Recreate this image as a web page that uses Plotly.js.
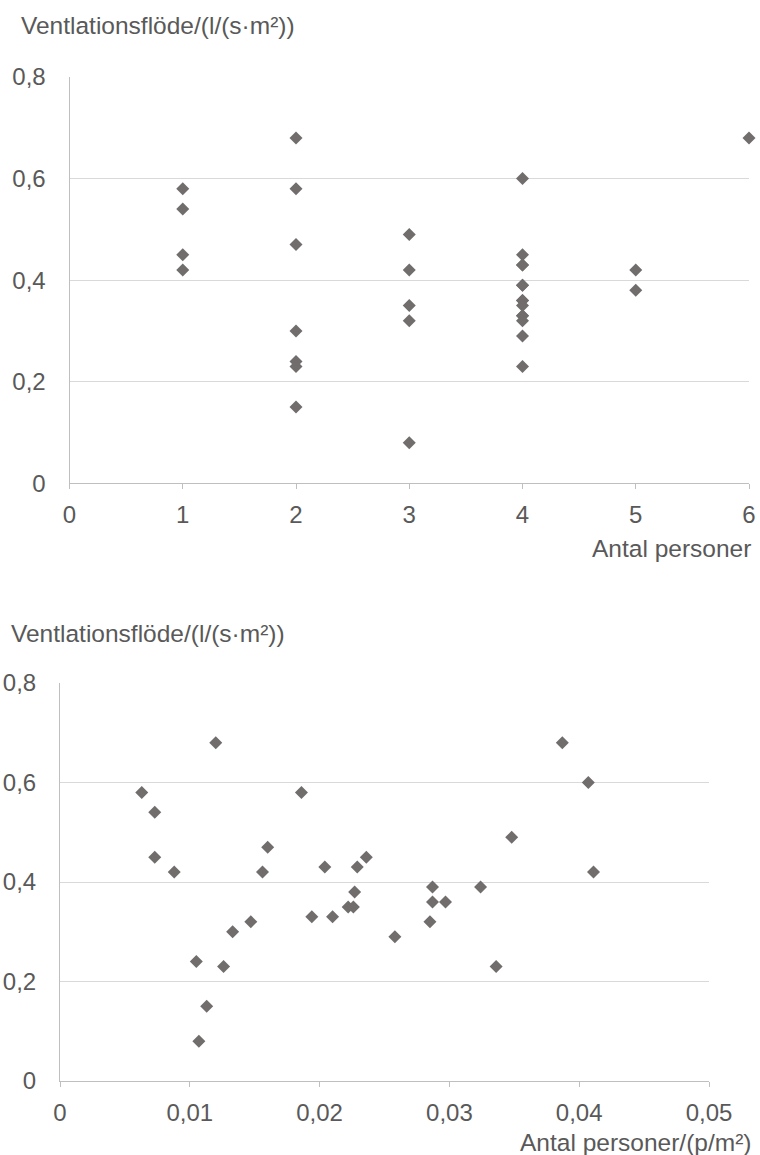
<!DOCTYPE html>
<html>
<head>
<meta charset="utf-8">
<script src="https://cdn.plot.ly/plotly-3.0.1.min.js"></script>
<style>
  html, body { margin: 0; padding: 0; background: #ffffff; }
  #chart { width: 760px; height: 1155px; }
</style>
</head>
<body>
<div id="chart"></div>
<script>
// ---- Data: top chart (number of persons vs ventilation flow) ----
const persons = [1, 1, 1, 1,
                 2, 2, 2, 2, 2, 2, 2,
                 3, 3, 3, 3, 3,
                 4, 4, 4, 4, 4, 4, 4, 4, 4, 4, 4, 4, 4, 4,
                 5, 5,
                 6];
const flowTop = [0.58, 0.54, 0.45, 0.42,
                 0.68, 0.58, 0.47, 0.30, 0.24, 0.23, 0.15,
                 0.49, 0.42, 0.35, 0.32, 0.08,
                 0.60, 0.45, 0.43, 0.43, 0.39, 0.39, 0.36, 0.36, 0.35, 0.33, 0.33, 0.32, 0.29, 0.23,
                 0.42, 0.38,
                 0.68];

// ---- Data: bottom chart (persons per m² vs ventilation flow) ----
const density = [0.0063, 0.0073, 0.0073, 0.0088, 0.0120, 0.0105, 0.0107, 0.0113, 0.0126,
                 0.0133, 0.0147, 0.0156, 0.0160, 0.0186, 0.0194, 0.0204, 0.0210, 0.0222,
                 0.0226, 0.0227, 0.0229, 0.0236, 0.0258, 0.0285, 0.0287, 0.0287, 0.0297,
                 0.0324, 0.0336, 0.0348, 0.0387, 0.0407, 0.0411];
const flowBottom = [0.58, 0.54, 0.45, 0.42, 0.68, 0.24, 0.08, 0.15, 0.23,
                    0.30, 0.32, 0.42, 0.47, 0.58, 0.33, 0.43, 0.33, 0.35,
                    0.35, 0.38, 0.43, 0.45, 0.29, 0.32, 0.39, 0.36, 0.36,
                    0.39, 0.23, 0.49, 0.68, 0.60, 0.42];

const yTitle = "Ventlationsflöde/(l/(s·m²))";
const xTitleTop = "Antal personer";
const xTitleBottom = "Antal personer/(p/m²)";

// ---- Layout helpers (pixel -> paper) ----
const W = 760, H = 1155;
const px = v => v / W;
const py = v => 1 - v / H;

const textColor = "#595959";
const fontFamily = "'Liberation Sans', Arial, sans-serif";
const markerStyle = { symbol: "diamond", size: 10, color: "#716d6d", line: { width: 0 } };

const traces = [
  { type: "scatter", mode: "markers", x: persons, y: flowTop, xaxis: "x", yaxis: "y",
    marker: markerStyle, cliponaxis: false, hoverinfo: "x+y" },
  { type: "scatter", mode: "markers", x: density, y: flowBottom, xaxis: "x2", yaxis: "y2",
    marker: markerStyle, cliponaxis: false, hoverinfo: "x+y" }
];

const tickFont = { family: fontFamily, size: 24, color: textColor };
const titleFont = { family: fontFamily, size: 24.5, color: textColor };

function xAxis(domain, range, dtick, anchor) {
  return {
    domain: domain, range: range, dtick: dtick, tick0: 0, anchor: anchor,
    showgrid: false, zeroline: false,
    showline: true, linecolor: "#bfbfbf", linewidth: 1,
    ticks: "outside", ticklen: 5, tickcolor: "#bfbfbf", tickwidth: 1,
    ticklabelstandoff: 5,
    tickfont: tickFont, fixedrange: true
  };
}
function yAxis(domain, anchor) {
  return {
    domain: domain, range: [0, 0.8], dtick: 0.2, tick0: 0, anchor: anchor,
    showgrid: true, gridcolor: "#d9d9d9", gridwidth: 1, zeroline: false,
    showline: true, linecolor: "#bfbfbf", linewidth: 1,
    ticks: "", ticklabelstandoff: 18,
    tickfont: tickFont, fixedrange: true
  };
}

const layout = {
  width: W, height: H,
  margin: { l: 0, r: 0, t: 0, b: 0 },
  paper_bgcolor: "#ffffff", plot_bgcolor: "#ffffff",
  separators: ", ",
  showlegend: false,
  font: { family: fontFamily, color: textColor },
  xaxis: xAxis([px(69.5), px(749)], [0, 6], 1, "y"),
  yaxis: yAxis([py(483.3), py(77)], "x"),
  xaxis2: xAxis([px(60), px(709)], [0, 0.05], 0.01, "y2"),
  yaxis2: yAxis([py(1081), py(683)], "x2"),
  annotations: [
    { text: yTitle, xref: "paper", yref: "paper", x: px(19), y: py(25),
      xanchor: "left", yanchor: "middle", showarrow: false, font: titleFont },
    { text: xTitleTop, xref: "paper", yref: "paper", x: px(753), y: py(548),
      xanchor: "right", yanchor: "middle", showarrow: false, font: titleFont },
    { text: yTitle, xref: "paper", yref: "paper", x: px(9), y: py(633),
      xanchor: "left", yanchor: "middle", showarrow: false, font: titleFont },
    { text: xTitleBottom, xref: "paper", yref: "paper", x: px(753), y: py(1142),
      xanchor: "right", yanchor: "middle", showarrow: false, font: titleFont }
  ]
};

Plotly.newPlot("chart", traces, layout, { staticPlot: true, displayModeBar: false });
</script>
</body>
</html>
